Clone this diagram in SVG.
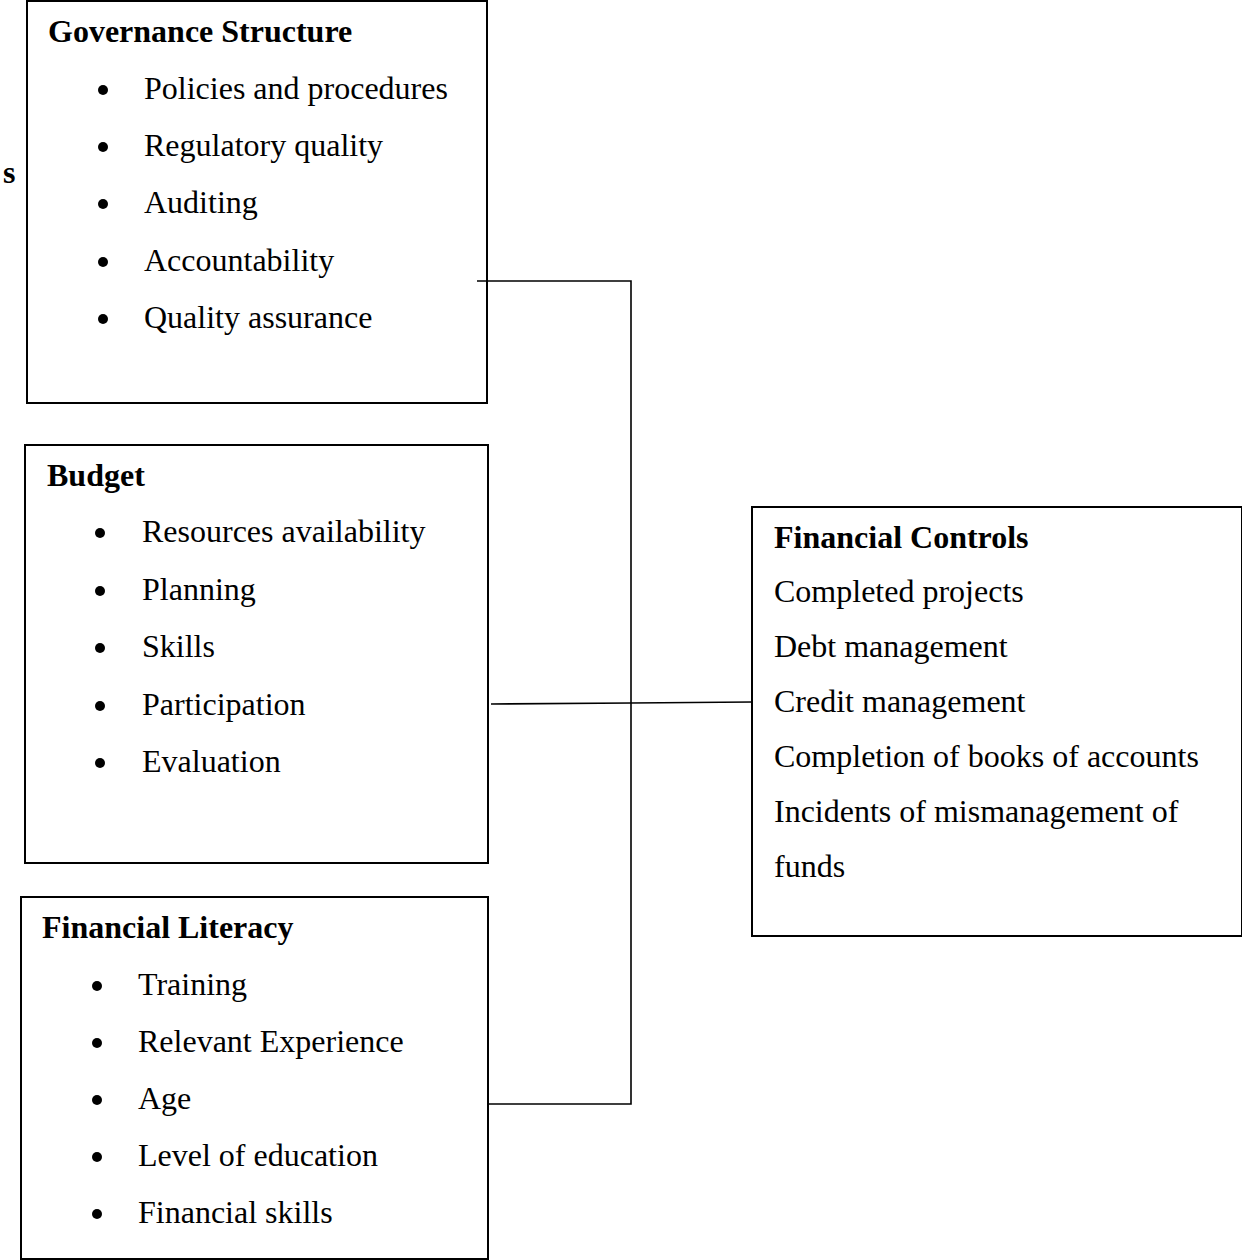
<svg xmlns="http://www.w3.org/2000/svg" width="1242" height="1260" viewBox="0 0 1242 1260">
<style>
.box{fill:#fff;stroke:#000;stroke-width:2}
.t{font-family:"Liberation Serif","Times New Roman",serif;font-size:32px;fill:#000}
.b{font-weight:bold}
.dot{fill:#000}
.conn{fill:none;stroke:#000;stroke-width:1.6}
</style>
<rect width="1242" height="1260" fill="#fff"/>
<text class="t b" x="3" y="183">s</text>
<g id="governance">
<rect class="box" x="27" y="1" width="460" height="402"/>
<text class="t b" x="48" y="42">Governance Structure</text>
<circle class="dot" cx="103" cy="90" r="5"/><text class="t" x="144" y="99">Policies and procedures</text>
<circle class="dot" cx="103" cy="147" r="5"/><text class="t" x="144" y="156">Regulatory quality</text>
<circle class="dot" cx="103" cy="204" r="5"/><text class="t" x="144" y="213">Auditing</text>
<circle class="dot" cx="103" cy="262" r="5"/><text class="t" x="144" y="271">Accountability</text>
<circle class="dot" cx="103" cy="319" r="5"/><text class="t" x="144" y="328">Quality assurance</text>
</g>
<g id="budget">
<rect class="box" x="25" y="445" width="463" height="418"/>
<text class="t b" x="47" y="486">Budget</text>
<circle class="dot" cx="100" cy="533" r="5"/><text class="t" x="142" y="542">Resources availability</text>
<circle class="dot" cx="100" cy="591" r="5"/><text class="t" x="142" y="600">Planning</text>
<circle class="dot" cx="100" cy="648" r="5"/><text class="t" x="142" y="657">Skills</text>
<circle class="dot" cx="100" cy="706" r="5"/><text class="t" x="142" y="715">Participation</text>
<circle class="dot" cx="100" cy="763" r="5"/><text class="t" x="142" y="772">Evaluation</text>
</g>
<g id="literacy">
<rect class="box" x="21" y="897" width="467" height="362"/>
<text class="t b" x="42" y="938">Financial Literacy</text>
<circle class="dot" cx="97" cy="986" r="5"/><text class="t" x="138" y="995">Training</text>
<circle class="dot" cx="97" cy="1043" r="5"/><text class="t" x="138" y="1052">Relevant Experience</text>
<circle class="dot" cx="97" cy="1100" r="5"/><text class="t" x="138" y="1109">Age</text>
<circle class="dot" cx="97" cy="1157" r="5"/><text class="t" x="138" y="1166">Level of education</text>
<circle class="dot" cx="97" cy="1214" r="5"/><text class="t" x="138" y="1223">Financial skills</text>
</g>
<g id="controls">
<rect class="box" x="752" y="507" width="490" height="429"/>
<text class="t b" x="774" y="548">Financial Controls</text>
<text class="t" x="774" y="602">Completed projects</text>
<text class="t" x="774" y="657">Debt management</text>
<text class="t" x="774" y="712">Credit management</text>
<text class="t" x="774" y="767">Completion of books of accounts</text>
<text class="t" x="774" y="822">Incidents of mismanagement of</text>
<text class="t" x="774" y="877">funds</text>
</g>
<g id="connectors">
<polyline class="conn" points="477,281 631,281 631,1104 488,1104"/>
<line class="conn" x1="491" y1="704" x2="631" y2="703"/>
<line class="conn" x1="631" y1="703" x2="752" y2="702"/>
</g>
</svg>
